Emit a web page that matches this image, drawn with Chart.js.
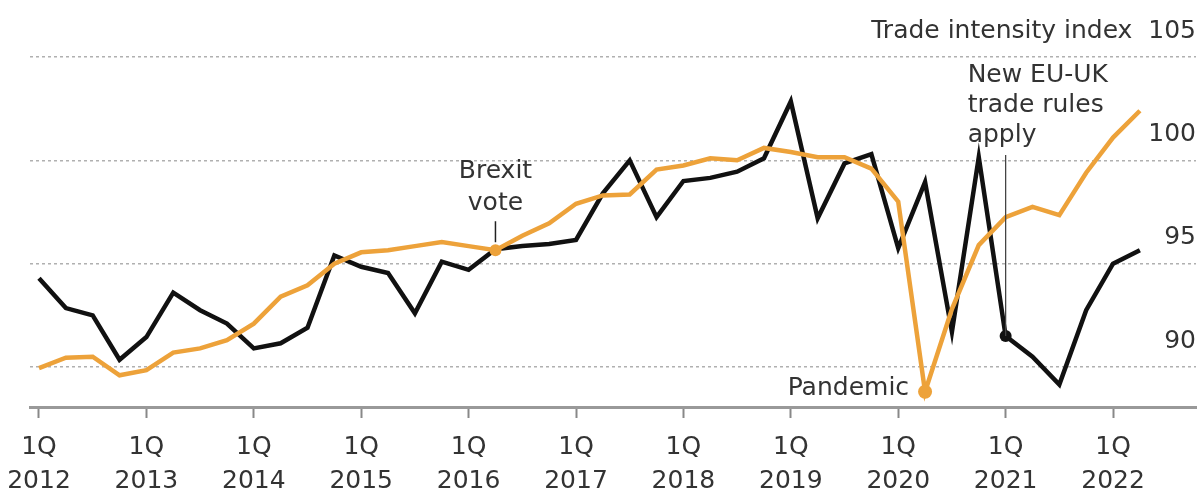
<!DOCTYPE html>
<html><head><meta charset="utf-8">
<script src="https://cdn.jsdelivr.net/npm/chart.js@4/dist/chart.umd.min.js"></script>
<style>html,body{margin:0;padding:0;background:#fff;overflow:hidden}#wrap{width:1200px;height:493px}</style>
</head><body><div id="wrap"><canvas id="c" width="1200" height="493"></canvas></div>
<script>
// Quarterly categories, 1Q 2012 .. 2Q 2022
const quarters = ['1Q2012','2Q2012','3Q2012','4Q2012','1Q2013','2Q2013','3Q2013','4Q2013',
  '1Q2014','2Q2014','3Q2014','4Q2014','1Q2015','2Q2015','3Q2015','4Q2015',
  '1Q2016','2Q2016','3Q2016','4Q2016','1Q2017','2Q2017','3Q2017','4Q2017',
  '1Q2018','2Q2018','3Q2018','4Q2018','1Q2019','2Q2019','3Q2019','4Q2019',
  '1Q2020','2Q2020','3Q2020','4Q2020','1Q2021','2Q2021','3Q2021','4Q2021',
  '1Q2022','2Q2022'];
// Black series
const britain = [94.3, 92.85, 92.5, 90.35, 91.45, 93.6, 92.75, 92.1, 90.9, 91.15, 91.9, 95.4,
  94.85, 94.55, 92.6, 95.1, 94.7, 95.7, 95.85, 95.95, 96.15, 98.4, 100.0, 97.25,
  99.0, 99.15, 99.45, 100.1, 102.85, 97.2, 99.85, 100.3, 95.75, 98.95, 91.7, 100.15,
  91.5, 90.5, 89.15, 92.75, 95.0, 95.65];
// Orange series
const others = [89.95, 90.45, 90.5, 89.6, 89.85, 90.7, 90.9, 91.3, 92.1, 93.4, 93.95, 95.0,
  95.55, 95.65, 95.85, 96.05, 95.85, 95.65, 96.35, 96.95, 97.9, 98.3, 98.35, 99.55,
  99.75, 100.1, 100.0, 100.6, 100.4, 100.15, 100.15, 99.6, 98.0, 88.8, 92.8, 95.9,
  97.25, 97.75, 97.35, 99.4, 101.1, 102.4];
// Axis ticks
const yTicks = [90, 95, 100, 105];
const yTitle = 'Trade intensity index';
const xTickIdx = [0, 4, 8, 12, 16, 20, 24, 28, 32, 36, 40];
const xTickYears = ['2012','2013','2014','2015','2016','2017','2018','2019','2020','2021','2022'];
// Annotated points
const brexitIdx = 17, pandemicIdx = 33, tradeRulesIdx = 36;
const brexitText = ['Brexit', 'vote'];
const pandemicText = 'Pandemic';
const tradeRulesText = ['New EU-UK', 'trade rules', 'apply'];

const ORANGE = '#EDA23A', BLACK = '#111111', TEXT = '#333333';
const FONT = '"DejaVu Sans", sans-serif';

const toXY = arr => arr.map((v, i) => ({x: i, y: v}));

const annot = {
  id: 'annot',
  afterDatasetsDraw(chart) {
    const xs = chart.scales.x, ys = chart.scales.y, c = chart.ctx;
    c.save();
    c.font = '25px ' + FONT;
    c.fillStyle = TEXT;
    c.strokeStyle = '#222';
    c.lineWidth = 1.5;
    // Brexit vote
    const bx = xs.getPixelForValue(brexitIdx), by = ys.getPixelForValue(others[brexitIdx]);
    c.beginPath(); c.moveTo(bx, by - 8); c.lineTo(bx, by - 29); c.stroke();
    c.textAlign = 'center'; c.textBaseline = 'alphabetic';
    c.fillText(brexitText[0], bx, by - 72);
    c.fillText(brexitText[1], bx, by - 40);
    // Pandemic
    const px = xs.getPixelForValue(pandemicIdx), py = ys.getPixelForValue(others[pandemicIdx]);
    c.textAlign = 'right';
    c.fillText(pandemicText, px - 16, py + 3);
    // New trade rules
    const ex = xs.getPixelForValue(tradeRulesIdx), ey = ys.getPixelForValue(britain[tradeRulesIdx]);
    c.lineWidth = 1.3; c.strokeStyle = '#444';
    c.beginPath(); c.moveTo(ex, ey); c.lineTo(ex, ey - 181); c.stroke();
    c.textAlign = 'left';
    tradeRulesText.forEach((t, k) => c.fillText(t, ex - 38, ey - 254 + k * 30));
    c.restore();
  }
};

new Chart(document.getElementById('c'), {
  type: 'line',
  data: {
    datasets: [
      {
        label: 'Others', data: toXY(others), borderColor: ORANGE, backgroundColor: ORANGE,
        borderWidth: 4.5, tension: 0,
        pointRadius: ctx => (ctx.dataIndex === brexitIdx ? 6 : ctx.dataIndex === pandemicIdx ? 7 : 0),
        pointBorderWidth: 0, order: 0
      },
      {
        label: 'Britain', data: toXY(britain), borderColor: BLACK, backgroundColor: BLACK,
        borderWidth: 4.5, tension: 0,
        pointRadius: ctx => (ctx.dataIndex === tradeRulesIdx ? 6 : 0),
        pointBorderWidth: 0, order: 1
      }
    ]
  },
  options: {
    responsive: false, animation: false, devicePixelRatio: 1,
    layout: {padding: {top: 57, right: 4, left: 30, bottom: -17}},
    plugins: {legend: {display: false}, tooltip: {enabled: false}},
    scales: {
      x: {
        type: 'linear', min: -0.335, max: 43.09,
        afterBuildTicks: s => { s.ticks = xTickIdx.map(v => ({value: v})); },
        afterFit: s => { s.paddingLeft = 0; s.paddingRight = 0; },
        ticks: {
          autoSkip: false, maxRotation: 0, padding: 12,
          font: {family: FONT, size: 25, lineHeight: 1.36}, color: TEXT,
          callback: v => { const k = xTickIdx.indexOf(v); return k < 0 ? '' : ['1Q', xTickYears[k]]; }
        },
        grid: {drawOnChartArea: false, drawTicks: true, tickLength: 11, tickColor: '#888', tickWidth: 2},
        border: {display: true, color: '#999', width: 3}
      },
      y: {
        position: 'right', min: 88.065, max: 105,
        afterBuildTicks: s => { s.ticks = yTicks.map(v => ({value: v})); },
        ticks: {
          mirror: true, padding: 0, labelOffset: -26,
          font: {family: FONT, size: 25}, color: TEXT,
          callback: v => (v === 105 ? yTitle + '  ' + v : String(v))
        },
        grid: {drawTicks: false, color: '#b0b0b0', lineWidth: 1.5},
        border: {display: false, dash: [3, 3]}
      }
    }
  },
  plugins: [annot]
});
</script></body></html>
